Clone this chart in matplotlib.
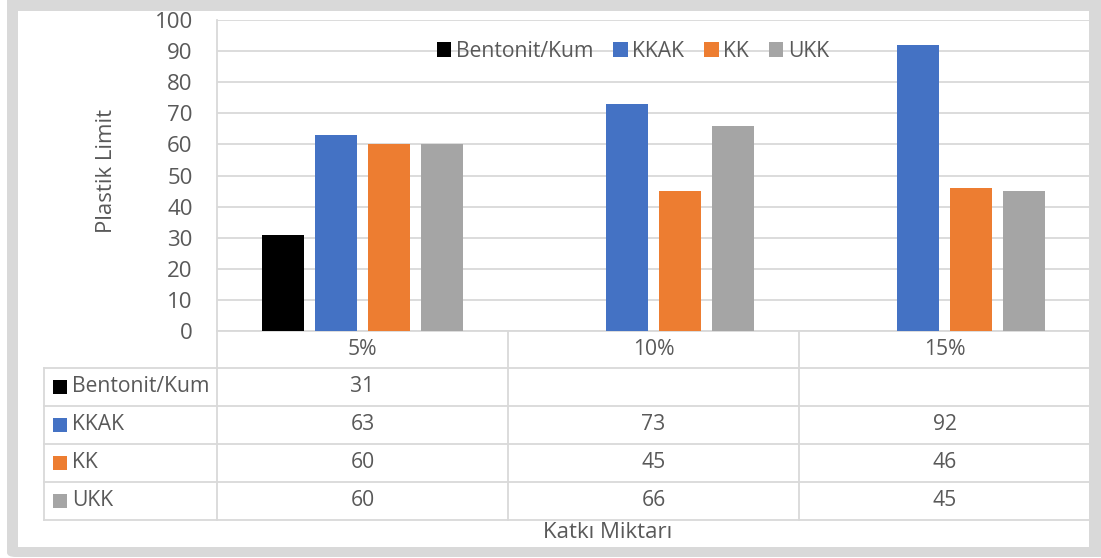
import matplotlib
matplotlib.use("Agg")
import matplotlib.pyplot as plt
from matplotlib.patches import FancyBboxPatch, Rectangle
from matplotlib.lines import Line2D
from matplotlib.transforms import blended_transform_factory
import numpy as np

# ---------------- data ----------------
categories = ["5%", "10%", "15%"]
series_names = ["Bentonit/Kum", "KKAK", "KK", "UKK"]
bentonit_kum = [31, None, None]
kkak = [63, 73, 92]
kk = [60, 45, 46]
ukk = [60, 66, 45]
series_colors = ["#000000", "#4472C4", "#ED7D31", "#A5A5A5"]
y_ticks = list(range(0, 101, 10))
y_label = "Plastik Limit"
x_label = "Katkı Miktarı"

series_values = [bentonit_kum, kkak, kk, ukk]

# ---------------- layout ----------------
W, H = 1101, 558
TXT = "#595959"
LINE = "#d9d9d9"
FS = 15.2

plt.rcParams['font.family'] = ['Open Sans', 'DejaVu Sans']
fig = plt.figure(figsize=(W / 100, H / 100), dpi=100)
fig.patch.set_facecolor("white")


def fx(x):
    return x / W


def fy(y):
    return 1 - y / H


# outer gray frame
fig.patches.append(FancyBboxPatch((fx(7), fy(557)), fx(1130) - fx(7), fy(-30) - fy(557),
                                  boxstyle="round,pad=0,rounding_size=0.008",
                                  transform=fig.transFigure, fc=LINE, ec="none", zorder=-2))
fig.patches.append(Rectangle((fx(18), fy(547)), fx(1089) - fx(18), fy(11) - fy(547),
                             transform=fig.transFigure, fc="white", ec="none", zorder=-1))

PL, PR, PT, PB = 217, 1090, 20, 331
ax = fig.add_axes([fx(PL), fy(PB), fx(PR) - fx(PL), fy(PT) - fy(PB)])
ax.set_zorder(2)
ax.patch.set_alpha(0)

n = len(categories)
xs = np.arange(n)
bar_w = 0.1447
step = 0.1826
for i, (name, vals, col) in enumerate(zip(series_names, series_values, series_colors)):
    px = [x + (i - 1.5) * step for x, v in zip(xs, vals) if v is not None]
    pv = [v for v in vals if v is not None]
    ax.bar(px, pv, width=bar_w, color=col, label=name, zorder=3)

ax.set_xlim(-0.5, n - 0.5)
ax.set_ylim(0, 100)
ax.set_yticks(y_ticks)
ax.set_xticks([])
ax.tick_params(axis='y', length=0, pad=17.5, labelsize=FS + 0.8, labelcolor=TXT)
ax.yaxis.grid(True, color=LINE, lw=1.3)
ax.set_axisbelow(True)
for s in ax.spines.values():
    s.set_visible(False)

leg = ax.legend(ncol=4, loc='center', bbox_to_anchor=(0.4765, 0.899), frameon=False,
                handlelength=0.68, handleheight=0.68, handletextpad=0.22, columnspacing=0.95,
                fontsize=FS, labelcolor=TXT, borderpad=0)

fig.text(fx(107), fy(171), y_label, rotation=90, ha='center', va='center', fontsize=FS + 0.8, color=TXT)
fig.text(fx(608), fy(532), x_label, ha='center', va='center', fontsize=FS + 0.8, color=TXT)

# ---------------- data table ----------------
rows_y = [331, 368, 406, 444, 482, 520]
TL = 44
col_edges = [PL + k * (PR - PL) / n for k in range(n + 1)]


def hline(y, x0, x1):
    fig.add_artist(Line2D([fx(x0), fx(x1)], [fy(y), fy(y)], color=LINE, lw=1.3,
                          transform=fig.transFigure, zorder=1))


def vline(x, y0, y1):
    fig.add_artist(Line2D([fx(x), fx(x)], [fy(y0), fy(y1)], color=LINE, lw=1.3,
                          transform=fig.transFigure, zorder=1))


hline(rows_y[0], PL, PR)
for y in rows_y[1:]:
    hline(y, TL, PR)
vline(TL, rows_y[1], rows_y[-1])
vline(PL, PT, rows_y[-1])
for x in col_edges[1:]:
    vline(x, rows_y[0], rows_y[-1])

tr = blended_transform_factory(ax.transData, fig.transFigure)
hc = (rows_y[0] + rows_y[1]) / 2
for c, lab in enumerate(categories):
    fig.text(c, fy(hc), lab, transform=tr, ha='center', va='center', fontsize=FS, color=TXT)

for r, (name, vals, col) in enumerate(zip(series_names, series_values, series_colors)):
    yc = (rows_y[r + 1] + rows_y[r + 2]) / 2
    sq = 14
    fig.patches.append(Rectangle((fx(53), fy(yc + sq / 2)), fx(53 + sq) - fx(53), fy(yc - sq / 2) - fy(yc + sq / 2),
                                 transform=fig.transFigure, fc=col, ec="none", zorder=5))
    fig.text(fx(72), fy(yc), name, ha='left', va='center', fontsize=FS, color=TXT)
    for c, v in enumerate(vals):
        if v is not None:
            fig.text(c, fy(yc), str(v), transform=tr, ha='center', va='center', fontsize=FS, color=TXT)

fig.savefig("out.png", dpi=100)
